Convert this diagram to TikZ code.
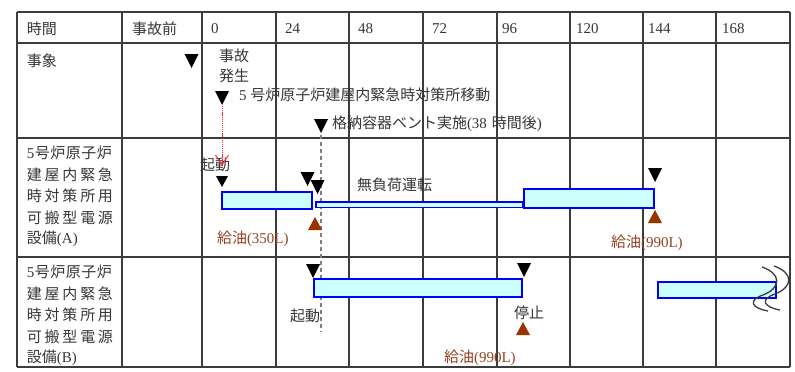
\documentclass[tikz,border=0pt]{standalone}
\usepackage{fontspec}
\setmainfont{Liberation Serif}
\newfontfamily\jp{Noto Sans CJK JP}
\usetikzlibrary{arrows.meta}
\definecolor{txt}{RGB}{55,55,55}
\definecolor{oil}{RGB}{153,51,0}
\definecolor{oiltxt}{RGB}{150,65,35}
\definecolor{barfill}{RGB}{204,255,255}
\definecolor{barline}{RGB}{0,0,255}
\definecolor{gridc}{RGB}{60,60,60}
\newcommand\ltn[1]{{\rmfamily #1}}
\newcommand\spr[2]{\hbox to #1pt{#2}}
\begin{document}
\begin{tikzpicture}[x=1pt,y=-1pt,
  every node/.style={inner sep=0pt, outer sep=0pt, text=txt, font=\jp\fontsize{15}{17}\selectfont},
  lbl/.style={anchor=west},
  oillbl/.style={anchor=west, text=oiltxt},
  bar/.style={draw=barline, fill=barfill, line width=2pt},
  thinbar/.style={draw=barline, fill=barfill, line width=1.5pt},
  gridline/.style={draw=gridc, line width=1.2pt},
  dtri/.pic={\fill[black] (-7,-14) -- (7,-14) -- (0,0) -- cycle;},
  stri/.pic={\fill[black] (-6,-11) -- (6,-11) -- (0,0) -- cycle;},
  utri/.pic={\fill[oil] (-7,13) -- (7,13) -- (0,0) -- cycle;},
  wave/.style={draw=gridc, line width=1.3pt},
]
\useasboundingbox (0,0) rectangle (795,372);
\fill[white] (0,0) rectangle (795,372);

% grid
\foreach \x in {17,122,202,276,349,423,497,570,643,716,790}
  \draw[gridline] (\x,12) -- (\x,367);
\foreach \y in {12,43,138,257,367}
  \draw[gridline] (17,\y) -- (790,\y);

% header
\node[lbl] (h0) at (27,28.5) {時間};
\node[lbl] (h1) at (132,28.5) {事故前};
\node[lbl] (t0) at (211,28.5) {\ltn{0}};
\node[lbl] (t24) at (285,28.5) {\ltn{24}};
\node[lbl] (t48) at (358,28.5) {\ltn{48}};
\node[lbl] (t72) at (432,28.5) {\ltn{72}};
\node[lbl] (t96) at (502,28.5) {\ltn{96}};
\node[lbl] (t120) at (576,28.5) {\ltn{120}};
\node[lbl] (t144) at (648,28.5) {\ltn{144}};
\node[lbl] (t168) at (722,28.5) {\ltn{168}};

% row labels
\node[lbl] (ev) at (27,61) {事象};
\node[lbl] (a1) at (27,153) {\spr{85}{\ltn{5}\hfill 号\hfill 炉\hfill 原\hfill 子\hfill 炉}};
\node[lbl] (a2) at (27,174.5) {\spr{86}{建\hfill 屋\hfill 内\hfill 緊\hfill 急}};
\node[lbl] (a3) at (27,196) {\spr{86}{時\hfill 対\hfill 策\hfill 所\hfill 用}};
\node[lbl] (a4) at (27,217.5) {\spr{86}{可\hfill 搬\hfill 型\hfill 電\hfill 源}};
\node[lbl] (a5) at (27,239) {設備\ltn{(A)}};
\node[lbl] (b1) at (27,272) {\spr{85}{\ltn{5}\hfill 号\hfill 炉\hfill 原\hfill 子\hfill 炉}};
\node[lbl] (b2) at (27,293.5) {\spr{86}{建\hfill 屋\hfill 内\hfill 緊\hfill 急}};
\node[lbl] (b3) at (27,315) {\spr{86}{時\hfill 対\hfill 策\hfill 所\hfill 用}};
\node[lbl] (b4) at (27,336.5) {\spr{86}{可\hfill 搬\hfill 型\hfill 電\hfill 源}};
\node[lbl] (b5) at (27,358) {設備\ltn{(B)}};

% event row
\pic at (191.5,68) {dtri};
\node[lbl] (acc1) at (219,56) {事故};
\node[lbl] (acc2) at (219,76) {発生};
\pic at (222,105) {dtri};
\coordinate (mvtip) at (222,106);
\node[lbl] (mv) at (239,95) {\ltn{5 }号炉原子炉建屋内緊急時対策所移動};
\pic at (321,133) {dtri};
\node[lbl] (vent) at (332,124) {格納容器ベント実施\ltn{(38}\hspace{5pt}時間後\ltn{)}};

% dashed vent line
\draw[draw=gray, line width=1.8pt, dash pattern=on 4pt off 3pt] (321,135) -- (321,332);

% row A
\node[lbl] (stA) at (200,165) {起動};
\coordinate (stAend) at (222,165);
\draw[red!85, line width=0.8pt, dash pattern=on 1.2pt off 0.9pt] (mvtip) -- (stAend);
\draw[red!85, line width=0.9pt] (215.5,155) -- (stAend) -- (228.5,155);
\pic at (222,187) {stri};
\draw[bar] (222,192) rectangle (312,209) node[pos=0.5] (barA1) {};
\pic at (307.5,186) {dtri};
\pic at (317.5,194) {dtri};
\draw[thinbar] (316,201.75) rectangle (523,207.25) node[pos=0.5] (barAthin) {};
\node[lbl] (noload) at (357,185) {無負荷運転};
\draw[bar] (524,189) rectangle (654,208) node[pos=0.5] (barA2) {};
\pic at (655,182) {dtri};
\pic at (315,217) {utri};
\pic at (655,210) {utri};
\node[oillbl] (oilA1) at (217,238.5) {給油\ltn{(350L)}};
\node[oillbl] (oilA2) at (611,243) {給油\ltn{(990L)}};

% row B
\draw[bar] (314,279) rectangle (522,297) node[pos=0.5] (barB1) {};
\pic at (313,278) {dtri};
\pic at (524,277) {dtri};
\node[lbl] (stB) at (290,316) {起動};
\node[lbl] (stop) at (514,313) {停止};
\pic at (523,322) {utri};
\node[oillbl] (oilB) at (444,358) {給油\ltn{(990L)}};
\draw[bar] (658,282) rectangle (776,298) node[pos=0.5] (barB2) {};
\draw[wave] (762,267) .. controls (782,274) and (781,288) .. (763,295) .. controls (748,300) and (751,308) .. (768,311);
\draw[wave] (774,266) .. controls (794,273) and (793,287) .. (775,294) .. controls (760,299) and (763,307) .. (780,310);
\end{tikzpicture}
\end{document}
